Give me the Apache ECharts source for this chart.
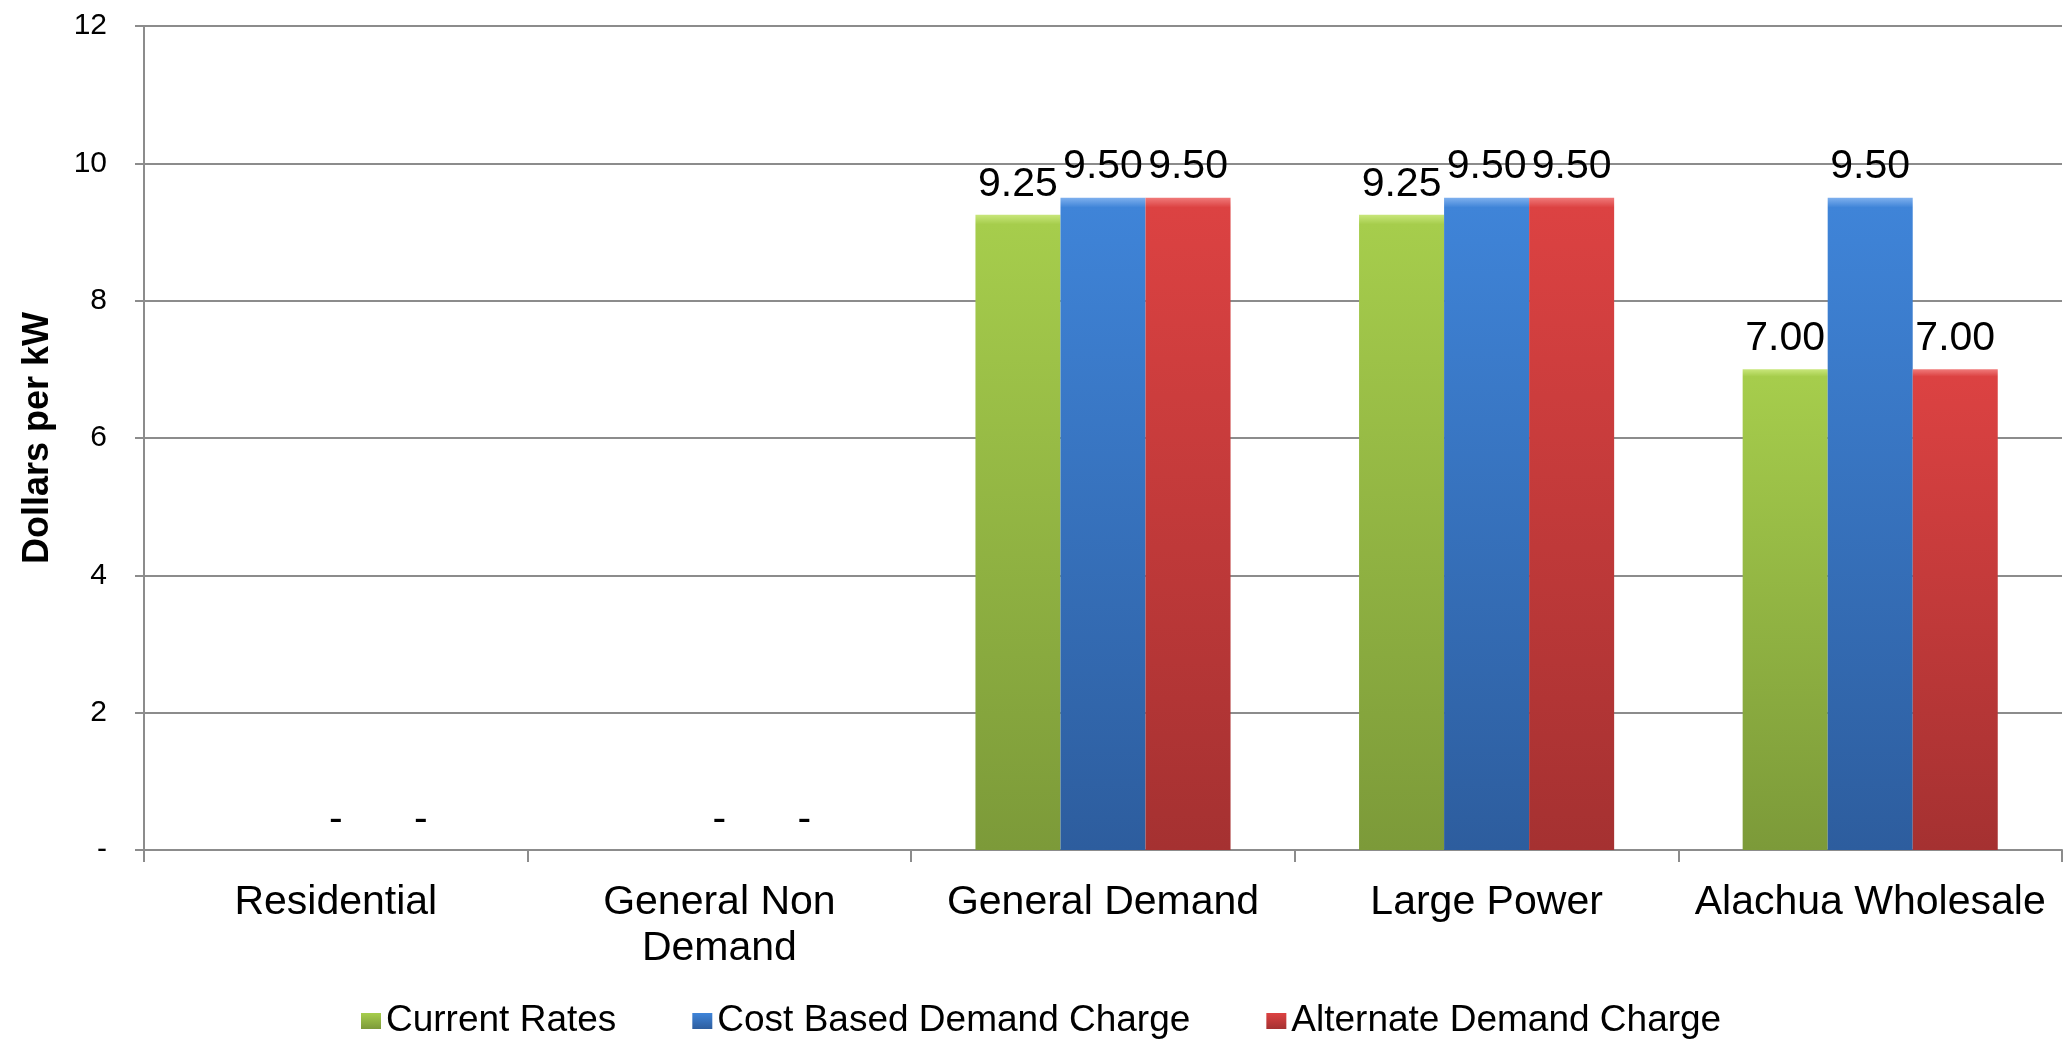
<!DOCTYPE html>
<html>
<head>
<meta charset="utf-8">
<script src="https://cdn.jsdelivr.net/npm/echarts@6/dist/echarts.min.js"></script>
<style>
  html, body { margin: 0; padding: 0; background: #fff; }
  #chart { width: 2070px; height: 1046px; }
</style>
</head>
<body>
<div id="chart"></div>
<script>
  // categories and series values
  var categories = ['Residential', 'General Non\nDemand', 'General Demand', 'Large Power', 'Alachua Wholesale']
  var seriesNames = ['Current Rates', 'Cost Based Demand Charge', 'Alternate Demand Charge']
  var currentRates = [null, null, 9.25, 9.25, 7.0]
  var costBased = [0, 0, 9.5, 9.5, 9.5]
  var alternate = [0, 0, 9.5, 9.5, 7.0]
  var yTicks = [0, 2, 4, 6, 8, 10, 12]

  var font = "'Liberation Sans', Arial, sans-serif"
  var chart = echarts.init(document.getElementById('chart'))

  // bevel-ish vertical gradient like the office 3D bars
  function barColor(top, mid, bottom) {
    return new echarts.graphic.LinearGradient(0, 0, 0, 1, [
      { offset: 0, color: top },
      { offset: 0.015, color: mid },
      { offset: 1, color: bottom },
    ])
  }

  var labelOpt = {
    show: true,
    position: 'top',
    distance: 10,
    color: '#000',
    fontFamily: font,
    fontSize: 41,
    formatter: function (p) {
      if (p.value === null || p.value === undefined) return ''
      return p.value === 0 ? '-' : p.value.toFixed(2)
    },
  }

  var option = {
    animation: false,
    textStyle: { fontFamily: font },
    grid: { left: 144, right: 8, top: 26, bottom: 196, outerBoundsMode: 'none', containLabel: false },
    legend: {
      data: seriesNames,
      top: 996,
      left: 356,
      icon: 'rect',
      itemWidth: 20,
      itemHeight: 16,
      itemGap: 76,
      textStyle: { color: '#000', fontSize: 37, fontFamily: font, lineHeight: 40 },
    },
    xAxis: {
      type: 'category',
      data: categories,
      axisLine: { lineStyle: { color: '#8c8c8c', width: 2 } },
      axisTick: { show: true, interval: 0, length: 12, lineStyle: { color: '#8c8c8c', width: 2 } },
      axisLabel: { interval: 0, color: '#000', fontSize: 41, lineHeight: 46, margin: 30, fontFamily: font },
    },
    yAxis: {
      type: 'value',
      min: 0,
      max: 12,
      interval: 2,
      name: 'Dollars per kW',
      nameLocation: 'middle',
      nameGap: 88,
      nameRotate: 90,
      nameTextStyle: { color: '#000', fontSize: 36, fontWeight: 'bold', fontFamily: font },
      axisLine: { show: true, lineStyle: { color: '#8c8c8c', width: 2 } },
      axisTick: { show: true, length: 9, lineStyle: { color: '#8c8c8c', width: 2 } },
      axisLabel: {
        color: '#000',
        fontSize: 30,
        margin: 37,
        fontFamily: font,
        formatter: function (v) {
          return yTicks.indexOf(v) === 0 ? '-' : String(v)
        },
      },
      splitLine: { lineStyle: { color: '#8c8c8c', width: 2 } },
    },
    series: [
      {
        name: seriesNames[0],
        type: 'bar',
        data: currentRates,
        barGap: '0%',
        barCategoryGap: '33.5%',
        itemStyle: { color: barColor('#c8e67a', '#a6cd4c', '#7c9a39') },
        label: labelOpt,
      },
      {
        name: seriesNames[1],
        type: 'bar',
        data: costBased,
        barGap: '0%',
        barCategoryGap: '33.5%',
        itemStyle: { color: barColor('#7fb0ee', '#3f84d8', '#2d5d9e') },
        label: labelOpt,
      },
      {
        name: seriesNames[2],
        type: 'bar',
        data: alternate,
        barGap: '0%',
        barCategoryGap: '33.5%',
        itemStyle: { color: barColor('#f07a7a', '#dc4242', '#a53131') },
        label: labelOpt,
      },
    ],
  }
  chart.setOption(option)
</script>
</body>
</html>
